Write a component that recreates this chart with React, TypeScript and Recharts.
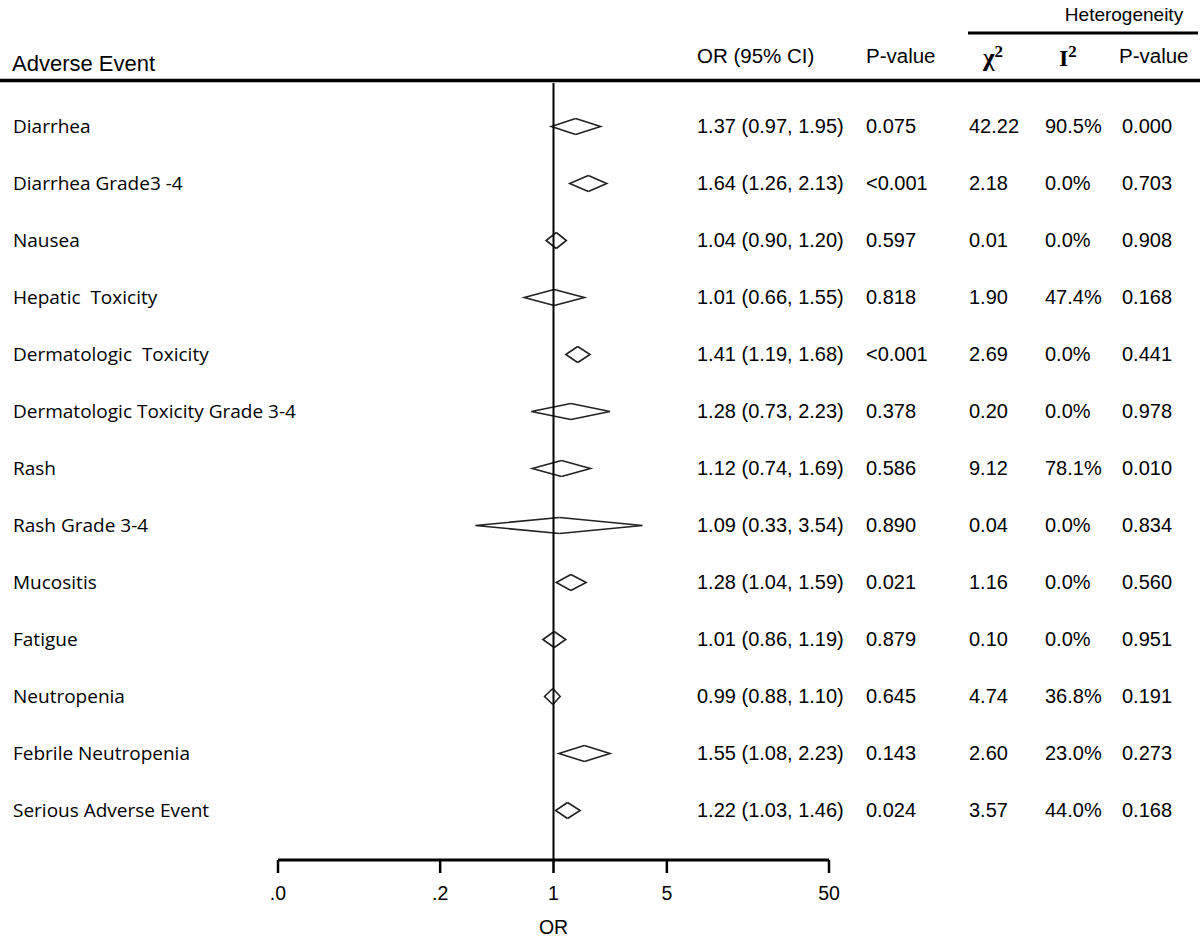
import React from "react";
import { ComposedChart, Bar, XAxis, YAxis, ReferenceLine } from "recharts";

const events = [
  "Diarrhea",
  "Diarrhea Grade3 -4",
  "Nausea",
  "Hepatic  Toxicity",
  "Dermatologic  Toxicity",
  "Dermatologic Toxicity Grade 3-4",
  "Rash",
  "Rash Grade 3-4",
  "Mucositis",
  "Fatigue",
  "Neutropenia",
  "Febrile Neutropenia",
  "Serious Adverse Event",
];

const oddsRatio = [1.37, 1.64, 1.04, 1.01, 1.41, 1.28, 1.12, 1.09, 1.28, 1.01, 0.99, 1.55, 1.22];
const ciLow = [0.97, 1.26, 0.9, 0.66, 1.19, 0.73, 0.74, 0.33, 1.04, 0.86, 0.88, 1.08, 1.03];
const ciHigh = [1.95, 2.13, 1.2, 1.55, 1.68, 2.23, 1.69, 3.54, 1.59, 1.19, 1.1, 2.23, 1.46];

const pValues = ["0.075", "<0.001", "0.597", "0.818", "<0.001", "0.378", "0.586", "0.890", "0.021", "0.879", "0.645", "0.143", "0.024"];
const chiSquare = ["42.22", "2.18", "0.01", "1.90", "2.69", "0.20", "9.12", "0.04", "1.16", "0.10", "4.74", "2.60", "3.57"];
const iSquare = ["90.5%", "0.0%", "0.0%", "47.4%", "0.0%", "0.0%", "78.1%", "0.0%", "0.0%", "0.0%", "36.8%", "23.0%", "44.0%"];
const hetP = ["0.000", "0.703", "0.908", "0.168", "0.441", "0.978", "0.010", "0.834", "0.560", "0.951", "0.191", "0.273", "0.168"];

const xTicks = [0.02, 0.2, 1, 5, 50];
const xTickLabels = [".0", ".2", "1", "5", "50"];

const rows = events.map((event, i) => ({
  event,
  or: oddsRatio[i],
  lo: ciLow[i],
  hi: ciHigh[i],
}));

const fmt = (v: number) => v.toFixed(2);

const SANS = "'Liberation Sans', Arial, sans-serif";
const LABEL_FONT = "'Open Sans', sans-serif";

const RowTick = (props: any) => {
  const { y, payload } = props;
  const i = events.indexOf(payload.value);
  const by = y + 7;
  const num = { fontFamily: SANS, fontSize: 20, fill: "#000" };
  return (
    <g>
      <text x={13} y={by} fontFamily={LABEL_FONT} fontSize={19} fill="#000" style={{ whiteSpace: "pre" }}>
        {payload.value}
      </text>
      <text x={697} y={by} {...num}>
        {`${fmt(oddsRatio[i])} (${fmt(ciLow[i])}, ${fmt(ciHigh[i])})`}
      </text>
      <text x={866} y={by} {...num}>{pValues[i]}</text>
      <text x={969} y={by} {...num}>{chiSquare[i]}</text>
      <text x={1045} y={by} {...num}>{iSquare[i]}</text>
      <text x={1122} y={by} {...num}>{hetP[i]}</text>
    </g>
  );
};

// left half of the diamond: lower limit to point estimate
const LeftHalf = (props: any) => {
  const { x, y, width, height } = props;
  if (width == null) return null;
  return (
    <path
      d={`M${x + width},${y} L${x},${y + height / 2} L${x + width},${y + height}`}
      fill="none"
      stroke="#222"
      strokeWidth={1.6}
    />
  );
};

// right half: point estimate to upper limit
const RightHalf = (props: any) => {
  const { x, y, width, height } = props;
  if (width == null) return null;
  return (
    <path
      d={`M${x},${y} L${x + width},${y + height / 2} L${x},${y + height}`}
      fill="none"
      stroke="#222"
      strokeWidth={1.6}
    />
  );
};

const Header = () => (
  <svg
    width={1200}
    height={939}
    style={{ position: "absolute", left: 0, top: 0, pointerEvents: "none" }}
  >
    <text x={12} y={71} fontFamily={SANS} fontSize={22} fill="#000">
      Adverse Event
    </text>
    <line x1={0} y1={80.5} x2={1200} y2={80.5} stroke="#000" strokeWidth={3.5} />
    <text x={1124} y={21} textAnchor="middle" fontFamily={SANS} fontSize={19} fill="#000">
      Heterogeneity
    </text>
    <line x1={968} y1={33} x2={1198} y2={33} stroke="#000" strokeWidth={3} />
    <text x={697} y={63} fontFamily={SANS} fontSize={20.5} fill="#000">
      OR (95% CI)
    </text>
    <text x={866} y={63} fontFamily={SANS} fontSize={20.5} fill="#000">
      P-value
    </text>
    <text x={983} y={66} fontFamily="'Liberation Serif', serif" fontSize={25} fontWeight="bold" fill="#000">
      χ
      <tspan fontSize={17} dy={-9}>2</tspan>
    </text>
    <text x={1059} y={66} fontFamily="'Liberation Serif', serif" fontSize={24} fontWeight="bold" fill="#000">
      I
      <tspan fontSize={17} dy={-9}>2</tspan>
    </text>
    <text x={1119} y={63} fontFamily={SANS} fontSize={20.5} fill="#000">
      P-value
    </text>
  </svg>
);

export default function App() {
  return (
    <div style={{ position: "absolute", left: 0, top: 0, width: 1200, height: 939, background: "#fff" }}>
      <ComposedChart
        width={1200}
        height={939}
        data={rows}
        layout="vertical"
        margin={{ top: 83, right: 371, bottom: 0, left: 0 }}
        barGap={-16}
      >
        <XAxis
          type="number"
          scale="log"
          domain={[0.02, 50]}
          allowDataOverflow
          ticks={xTicks}
          tickFormatter={(v: number) => xTickLabels[xTicks.indexOf(v)] ?? String(v)}
          height={79}
          tickSize={13}
          tickMargin={13}
          axisLine={{ stroke: "#000", strokeWidth: 3 }}
          tickLine={{ stroke: "#000", strokeWidth: 2.5 }}
          tick={{ fill: "#000", fontFamily: SANS, fontSize: 19.5 }}
          label={{
            value: "OR",
            position: "insideBottom",
            offset: 5,
            fill: "#000",
            fontFamily: SANS,
            fontSize: 19.5,
          }}
        />
        <YAxis
          type="category"
          dataKey="event"
          width={278}
          axisLine={false}
          tickLine={false}
          interval={0}
          padding={{ top: 14.5, bottom: 21.5 }}
          tick={<RowTick />}
        />
        <ReferenceLine x={1} stroke="#000" strokeWidth={2} />
        <Bar
          dataKey={(d: any) => [d.lo, d.or]}
          barSize={16}
          shape={<LeftHalf />}
          isAnimationActive={false}
        />
        <Bar
          dataKey={(d: any) => [d.or, d.hi]}
          barSize={16}
          shape={<RightHalf />}
          isAnimationActive={false}
        />
      </ComposedChart>
      <Header />
    </div>
  );
}
